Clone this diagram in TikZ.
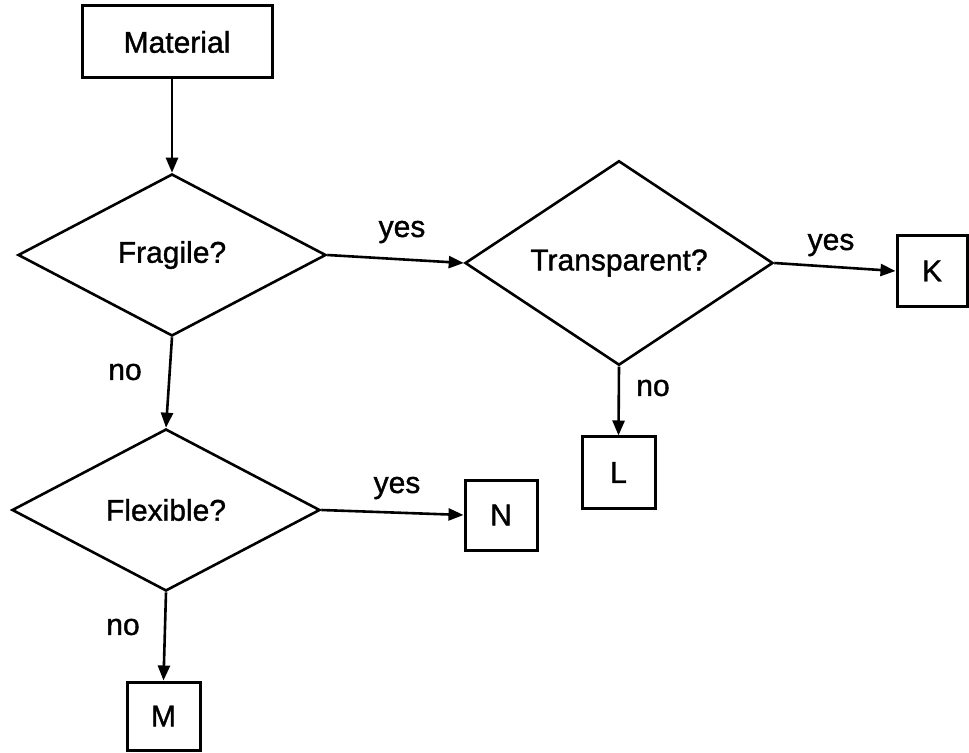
\documentclass[tikz,border=0pt]{standalone}
\usepackage{fontspec}
\setmainfont{Liberation Sans}[FakeBold=1.2]
\usetikzlibrary{shapes.geometric,arrows.meta}

\tikzset{
  box/.style={draw, line width=1.5pt, rectangle, inner sep=0pt, font=\fontsize{15}{18}\selectfont},
  decision/.style={draw, line width=1.3pt, diamond, inner sep=0pt, minimum width=154pt, minimum height=81pt, font=\fontsize{15}{18}\selectfont},
  flow/.style={line width=1.3pt, -{Triangle[length=7.5pt,width=6pt]}},
  lbl/.style={font=\fontsize{15}{18}\selectfont, inner sep=0pt},
}

\begin{document}
\begin{tikzpicture}[x=0.5pt, y=-0.5pt]
  \useasboundingbox (0,0) rectangle (969,753);

  % start box
  \node[box, minimum width=95pt, minimum height=36pt] (mat) at (177,42) {Material};

  % decisions
  \node[decision] (frag)  at (172,255) {Fragile?};
  \node[decision] (trans) at (619,263) {Transparent?};
  \node[decision] (flex)  at (166,510) {Flexible?};

  % outcomes
  \node[box, minimum width=35pt, minimum height=35.5pt] (K) at (932,271) {K};
  \node[box, minimum width=36.5pt, minimum height=35.5pt] (L) at (618.5,472.5) {L};
  \node[box, minimum width=36pt, minimum height=35pt] (N) at (501,515) {N};
  \node[box, minimum width=36.5pt, minimum height=34pt] (M) at (163.5,716) {M};

  % connectors
  \draw[flow] (frag.north |- mat.south) -- (frag.north);
  \draw[flow] (frag.east) -- (trans.west);
  \draw[flow] (trans.east) -- (K.west);
  \draw[flow] (trans.south) -- (L.north);
  \draw[flow] (frag.south) -- (flex.north);
  \draw[flow] (flex.east) -- (N.west);
  \draw[flow] (flex.south) -- (M.north);

  % branch labels
  \node[lbl] (y1) at (402,232) {yes};
  \node[lbl] (y2) at (831,245) {yes};
  \node[lbl] (n1) at (653,388) {no};
  \node[lbl] (n2) at (125,372) {no};
  \node[lbl] (y3) at (397,488) {yes};
  \node[lbl] (n3) at (123,627) {no};
\end{tikzpicture}
\end{document}
